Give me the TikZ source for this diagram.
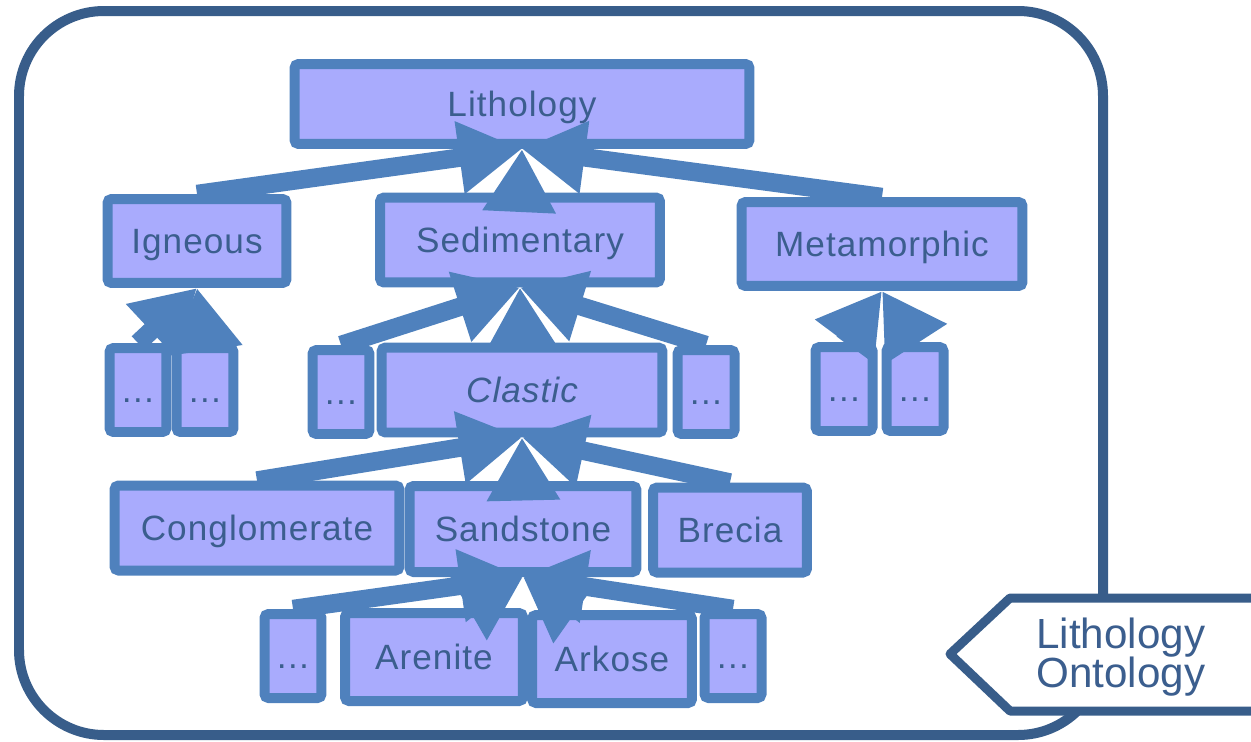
\documentclass[tikz,border=0pt]{standalone}
\usepackage{fontspec}
\setmainfont{Liberation Sans}
\newfontfamily\boxfont[LetterSpace=3]{Liberation Sans}
\usetikzlibrary{arrows.meta}
\definecolor{boxfill}{HTML}{A9ABFD}
\definecolor{boxline}{HTML}{4F81BD}
\definecolor{txtblue}{HTML}{3B5E8E}
\definecolor{framecol}{HTML}{385D8A}

\tikzset{
  rock/.style={draw=boxline, fill=boxfill, line width=0.2cm, rounded corners=0.08cm,
    text=txtblue, inner sep=0pt, text height=0.6cm, text depth=0.11cm,
    font=\boxfont\fontsize{20}{23}\selectfont},
  more/.style={rock, minimum width=1.14cm, minimum height=1.68cm},
  isa/.style={draw=boxline, line width=0.37cm, -{Triangle[length=1.26cm, width=1.38cm]}},
}

\begin{document}
\begin{tikzpicture}[x=0.02cm, y=-0.02cm]

\useasboundingbox (0,0) rectangle (1251,741);

\draw[framecol, line width=0.2cm, rounded corners=1.7cm] (19,11) rectangle (1103,735);

\node[rock, minimum width=9.1cm, minimum height=1.6cm] (lith) at (522,104) {Lithology};

\node[rock, minimum width=3.58cm, minimum height=1.68cm] (ign) at (197,241) {Igneous};
\node[rock, minimum width=5.6cm, minimum height=1.7cm] (sed) at (520,240) {Sedimentary};
\node[rock, minimum width=5.62cm, minimum height=1.68cm] (met) at (882,244) {Metamorphic};

\node[more] (ign1) at (138,390) {…};
\node[more] (ign2) at (205,390) {…};
\node[more] (sed1) at (341,392) {…};
\node[rock, minimum width=5.62cm, minimum height=1.7cm] (cla) at (522,390) {\itshape Clastic};
\node[more] (sed2) at (706,392) {…};
\node[more] (met1) at (844,389) {…};
\node[more] (met2) at (915,389) {…};

\node[rock, minimum width=5.7cm, minimum height=1.7cm] (con) at (257,528) {Conglomerate};
\node[rock, minimum width=4.54cm, minimum height=1.72cm] (snd) at (523,529) {Sandstone};
\node[rock, minimum width=3.08cm, minimum height=1.7cm] (bre) at (730,530) {Brecia};

\node[more] (snd1) at (293,656) {…};
\node[rock, minimum width=3.56cm, minimum height=1.76cm] (are) at (434,657) {Arenite};
\node[rock, minimum width=3.2cm, minimum height=1.76cm] (ark) at (612,659) {Arkose};
\node[more] (snd2) at (733,656) {…};

\draw[isa] (ign.north) to (lith.south);
\draw[isa] (sed.north) to (lith.south);
\draw[isa] (met.north) to (lith.south);

\draw[isa] (ign1.north) to (ign.south);
\draw[isa] (ign2.north) to (ign.south);

\draw[isa] (sed1.north) to (sed.south);
\draw[isa] (cla.north) to (sed.south);
\draw[isa] (sed2.north) to (sed.south);

\draw[isa] (met1.north) to (met.south);
\draw[isa] (met2.north) to (met.south);

\draw[isa] (con.north) to (cla.south);
\draw[isa] (snd.north) to (cla.south);
\draw[isa] (bre.north) to (cla.south);

\draw[isa] (snd1.north) to (snd.south);
\draw[isa] ([xshift=0.7cm]are.north) to (snd.south);
\draw[isa] ([xshift=-0.84cm]ark.north) to (snd.south);
\draw[isa] (snd2.north) to (snd.south);

% label tab on the right
\draw[framecol, line width=0.18cm, line join=round, fill=white]
  (1270,598) -- (1010,598) -- (950,654) -- (1010,711) -- (1270,711);
\node[anchor=west, align=left, text=txtblue, inner sep=0pt,
  font=\fontsize{24}{22.5}\selectfont] (ontlabel) at (1036,657) {Lithology\\Ontology};

\end{tikzpicture}
\end{document}
